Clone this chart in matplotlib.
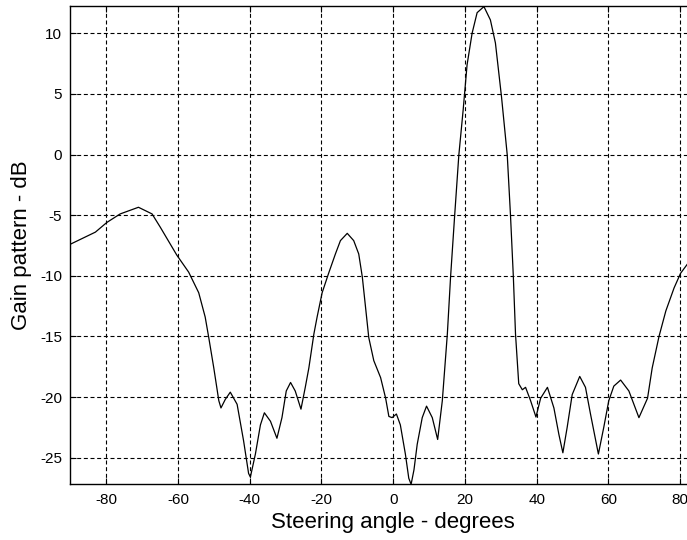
import matplotlib
matplotlib.use("Agg")
import matplotlib.pyplot as plt

plt.rcParams['font.family'] = ['Liberation Sans', 'DejaVu Sans']
plt.rcParams['axes.unicode_minus'] = False

# steering angle (deg) and gain pattern (dB)
angle = [-90.0, -83.0, -79.8, -76.1, -71.0, -67.2, -64.9, -60.3, -57.0, -54.2,
         -52.4, -51.4, -50.0, -48.6, -48.0, -46.8, -45.4, -43.5, -41.7, -40.3,
         -39.8, -38.4, -37.0, -35.9, -34.2, -32.4, -31.0, -29.8, -28.6, -27.3,
         -25.7, -24.5, -23.5, -22.1, -21.2, -19.8, -18.0, -16.1, -14.7, -12.8,
         -11.0, -9.6, -8.6, -7.7, -6.8, -5.4, -3.5, -2.1, -1.2, -0.3,
         0.9, 2.0, 3.4, 4.35, 5.0, 5.8, 6.7, 8.1, 9.3, 10.9,
         12.4, 13.7, 15.1, 16.0, 17.1, 18.3, 19.5, 20.6, 22.0, 23.4,
         25.3, 27.1, 28.5, 30.2, 31.8, 32.7, 33.5, 34.1, 35.0, 36.0,
         36.9, 38.3, 39.8, 41.1, 43.0, 44.8, 46.2, 47.3, 48.5, 49.9,
         52.0, 53.6, 55.0, 57.2, 58.7, 60.1, 61.5, 63.4, 65.7, 68.5,
         70.9, 72.2, 74.1, 76.0, 78.3, 80.1, 82.1]
gain_db = [-7.4, -6.4, -5.6, -4.9, -4.35, -4.9, -6.0, -8.3, -9.7, -11.4,
           -13.4, -15.1, -17.6, -20.3, -20.9, -20.2, -19.6, -20.6, -23.6, -26.3,
           -26.6, -24.7, -22.3, -21.3, -22.0, -23.4, -21.7, -19.5, -18.8, -19.5,
           -21.0, -19.2, -17.6, -14.8, -13.4, -11.4, -9.8, -8.2, -7.1, -6.5,
           -7.1, -8.2, -10.1, -12.6, -15.1, -17.0, -18.4, -20.1, -21.6, -21.7,
           -21.4, -22.3, -24.7, -26.7, -27.2, -26.0, -23.9, -21.7, -20.75, -21.7,
           -23.5, -20.3, -14.8, -10.1, -5.2, -0.05, 3.65, 7.4, 10.0, 11.7,
           12.2, 11.1, 9.2, 4.75, -0.05, -5.0, -10.1, -14.8, -18.9, -19.4,
           -19.2, -20.3, -21.65, -20.1, -19.2, -20.9, -23.1, -24.6, -22.5, -19.8,
           -18.3, -19.2, -21.4, -24.7, -22.5, -20.3, -19.1, -18.6, -19.5, -21.7,
           -20.1, -17.6, -15.0, -12.9, -11.0, -9.8, -9.0]

xticks = [-80, -60, -40, -20, 0, 20, 40, 60, 80]
yticks = [-25, -20, -15, -10, -5, 0, 5, 10]

fig = plt.figure(figsize=(6.87, 5.40), dpi=100, facecolor='white')
# right side of the axes runs past the figure edge, as in the cropped reference
ax = fig.add_axes([0.1023, 0.1031, 0.940, 0.8858])

ax.plot(angle, gain_db, color='black', lw=0.9, zorder=3)

ax.set_xlim(-90, 90)
ax.set_ylim(-27.2, 12.25)
ax.set_xticks(xticks)
ax.set_yticks(yticks)
ax.grid(True, color='black', lw=0.8, linestyle=(0, (3.6, 2.4)))
ax.set_axisbelow(True)

ax.tick_params(direction='in', length=4, width=0.8, top=True, right=True,
               labelsize=11, pad=6)
for s in ax.spines.values():
    s.set_linewidth(1.0)

ax.set_xlabel('Steering angle - degrees', fontsize=16, labelpad=4)
ax.set_ylabel('Gain pattern - dB', fontsize=16, labelpad=6)

fig.savefig('out.png', dpi=100)
